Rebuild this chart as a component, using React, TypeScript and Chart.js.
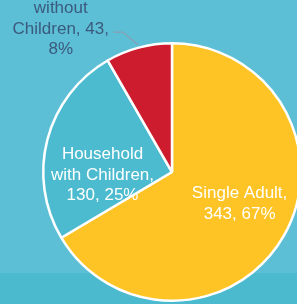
import React, { useEffect, useRef } from "react";
import { Chart, registerables } from "chart.js";

Chart.register(...registerables);

const categories = ["Single Adult", "Household with Children", "Household without Children"];
const values = [343, 130, 43];
const percents = ["67%", "25%", "8%"];
const sliceColors = ["#FEC325", "#4DBBCF", "#CC1C2D"];
// label lines for each slice
const labelLines = [
  ["Single Adult,", "343, 67%"],
  ["Household", "with Children,", "130, 25%"],
  ["Household", "without", "Children, 43,", "8%"],
];
// label placement relative to each arc: [angle offset from mid (deg), radius fraction]
const labelPlace = [
  [-4.5, 0.58],
  [-17, 0.54],
  [-21, 1.47],
];
const labelColors = ["#FFFFFF", "#FFFFFF", "#3B5A7E"];

const labelPlugin = {
  id: "sliceLabels",
  afterDatasetsDraw(chart: any) {
    const ctx = chart.ctx;
    const meta = chart.getDatasetMeta(0);
    ctx.save();
    ctx.font = "17px 'Liberation Sans', Arial, sans-serif";
    ctx.textAlign = "center";
    ctx.textBaseline = "middle";
    meta.data.forEach((arc: any, i: number) => {
      const { x, y, startAngle, endAngle, outerRadius } = arc.getProps(
        ["x", "y", "startAngle", "endAngle", "outerRadius"],
        true
      );
      const mid = (startAngle + endAngle) / 2;
      const a = mid + (labelPlace[i][0] * Math.PI) / 180;
      const r = outerRadius * labelPlace[i][1];
      const lx = x + Math.cos(a) * r;
      const ly = y + Math.sin(a) * r;
      const lines = labelLines[i];
      const lh = 20.5;
      const top = ly - ((lines.length - 1) * lh) / 2;
      if (labelPlace[i][1] > 1) {
        // leader line
        ctx.strokeStyle = "#8C9DB3";
        ctx.lineWidth = 1.2;
        const ex = x + Math.cos(mid) * (outerRadius + 3);
        const ey = y + Math.sin(mid) * (outerRadius + 3);
        const sy = top + 2 * lh + 3;
        ctx.beginPath();
        ctx.moveTo(lx + 53, sy);
        ctx.lineTo(lx + 62, sy);
        ctx.lineTo(ex, ey);
        ctx.stroke();
      }
      ctx.fillStyle = labelColors[i];
      lines.forEach((t, k) => ctx.fillText(t, lx, top + k * lh));
    });
    ctx.restore();
  },
};

export default function App() {
  const ref = useRef<HTMLCanvasElement>(null);
  useEffect(() => {
    document.body.style.margin = "0";
    const chart = new Chart(ref.current!, {
      type: "pie",
      data: {
        labels: categories,
        datasets: [
          {
            data: values,
            backgroundColor: sliceColors,
            borderColor: "#FFFFFF",
            borderWidth: 2.5,
          },
        ],
      },
      options: {
        animation: false,
        responsive: false,
        maintainAspectRatio: false,
        layout: { padding: { left: 42, top: 42, right: 18, bottom: 18 } },
        plugins: {
          legend: { display: false },
          tooltip: { enabled: false },
        },
      },
      plugins: [labelPlugin],
    });
    return () => chart.destroy();
  }, []);
  return (
    <div
      style={{
        position: "fixed",
        left: 0,
        top: 0,
        width: 297,
        height: 304,
        overflow: "hidden",
        background: "linear-gradient(to bottom, #5CBFD5 0px, #5CBFD5 273px, #4CBACE 273px, #4CBACE 304px)",
      }}
    >
      <canvas ref={ref} width={320} height={320} style={{ position: "absolute", left: 0, top: 0, width: 320, height: 320 }} />
    </div>
  );
}
